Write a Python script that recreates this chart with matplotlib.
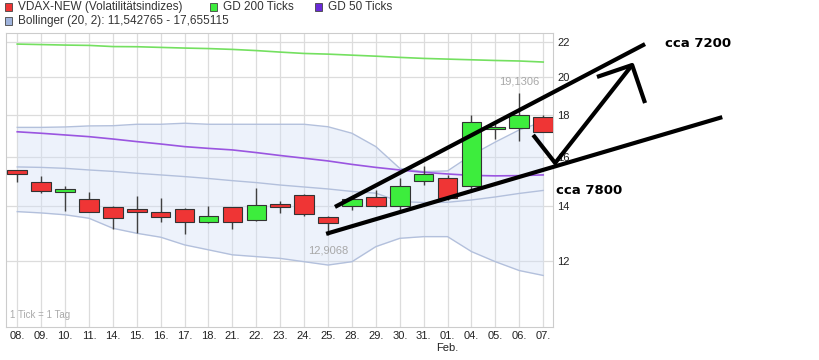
import numpy as np
import matplotlib
matplotlib.use("Agg")
import matplotlib.pyplot as plt
from matplotlib.patches import Rectangle

# VDAX-NEW daily candles
days = ["08.", "09.", "10.", "11.", "14.", "15.", "16.", "17.", "18.", "21.", "22.", "23.",
        "24.", "25.", "28.", "29.", "30.", "31.", "01.\nFeb.", "04.", "05.", "06.", "07."]
opens = [15.45, 14.94, 14.54, 14.25, 13.95, 13.86, 13.75, 13.86, 13.39, 13.94, 13.47, 14.07,
         14.42, 13.55, 13.97, 14.33, 14.00, 14.97, 15.09, 14.77, 17.29, 17.34, 17.90]
highs = [15.47, 15.19, 14.77, 14.54, 13.99, 14.39, 14.31, 13.89, 13.99, 13.95, 14.70, 14.18,
         14.45, 13.59, 14.35, 14.62, 15.12, 15.64, 15.22, 17.99, 17.61, 19.1306, 17.99]
lows = [14.94, 14.51, 13.80, 13.77, 13.13, 12.99, 13.38, 12.94, 13.33, 13.12, 13.42, 13.73,
        13.59, 12.9068, 13.83, 13.94, 13.83, 14.81, 14.22, 14.62, 16.82, 16.75, 17.15]
closes = [15.28, 14.59, 14.66, 13.77, 13.52, 13.76, 13.55, 13.37, 13.61, 13.39, 14.03, 13.94,
          13.68, 13.35, 14.25, 13.97, 14.78, 15.29, 14.29, 17.65, 17.42, 17.99, 17.17]

gd200 = [21.88, 21.85, 21.82, 21.80, 21.73, 21.72, 21.68, 21.64, 21.61, 21.56, 21.49, 21.40,
         21.32, 21.28, 21.22, 21.16, 21.09, 21.03, 20.99, 20.95, 20.91, 20.88, 20.82]
gd50 = [17.17, 17.10, 17.02, 16.94, 16.83, 16.71, 16.60, 16.48, 16.40, 16.33, 16.21, 16.08,
        15.96, 15.84, 15.69, 15.56, 15.45, 15.35, 15.28, 15.22, 15.20, 15.21, 15.24]
boll_up = [17.38, 17.38, 17.40, 17.45, 17.46, 17.53, 17.53, 17.58, 17.53, 17.53, 17.53, 17.53,
           17.53, 17.41, 17.10, 16.48, 15.52, 15.38, 15.41, 16.10, 16.69, 17.26, 17.655115]
boll_mid = [15.58, 15.56, 15.52, 15.45, 15.39, 15.31, 15.24, 15.17, 15.09, 15.00, 14.92, 14.82,
            14.74, 14.66, 14.56, 14.49, 14.16, 14.12, 14.13, 14.22, 14.34, 14.48, 14.60]
boll_lo = [13.77, 13.72, 13.65, 13.52, 13.15, 12.97, 12.83, 12.56, 12.39, 12.22, 12.16, 12.10,
           11.99, 11.88, 11.99, 12.50, 12.79, 12.85, 12.85, 12.33, 11.99, 11.70, 11.542765]

yticks = [12, 14, 16, 18, 20, 22]

# hand drawn marks (x in candle index, y in value)
wedge_top = ([13.29, 26.26], [13.95, 21.88])
wedge_bottom = ([12.92, 29.49], [12.95, 17.88])
arrow_path = ([21.58, 22.50, 25.72], [17.02, 15.75, 20.65])
arrow_head = ([24.25, 25.72, 26.26], [19.98, 20.65, 18.59])
notes = [(27.1, 21.94, "cca 7200"), (22.54, 14.58, "cca 7800")]

RED = "#ef3535"
GREEN = "#3ded3d"
PURPLE = "#9a55e0"
GD200_C = "#74e060"
BAND = "#b3c0dc"

plt.rcParams["font.family"] = ["Liberation Sans", "DejaVu Sans"]

fig = plt.figure(figsize=(8.2, 3.6), dpi=100)
ax = fig.add_axes([6 / 820, 33 / 360, 547 / 820, 294 / 360])

x = np.arange(len(days))
ax.fill_between(x, boll_lo, boll_up, color="#d2e0f7", alpha=0.4, lw=0, zorder=1)
ax.plot(x, boll_up, color=BAND, lw=1, zorder=2)
ax.plot(x, boll_lo, color=BAND, lw=1, zorder=2)
ax.plot(x, boll_mid, color=BAND, lw=1, zorder=2)
ax.plot(x, gd200, color=GD200_C, lw=1.2, zorder=2)
ax.plot(x, gd50, color=PURPLE, lw=1.2, zorder=2)

o = np.array(opens)
c = np.array(closes)
up = c >= o
ax.vlines(x, lows, highs, color="#404040", lw=1, zorder=3)
ax.bar(x, np.abs(c - o), bottom=np.minimum(o, c), width=0.82,
       color=np.where(up, GREEN, RED), edgecolor="#333333", linewidth=0.8, zorder=4)

ax.set_yscale("log")
ax.set_xlim(-0.47, 22.41)
ax.set_ylim(10.01, 22.56)
ax.set_yticks(yticks)
ax.set_yticklabels([str(t) for t in yticks])
ax.yaxis.set_minor_locator(matplotlib.ticker.NullLocator())
ax.yaxis.tick_right()
ax.set_xticks(x)
ax.set_xticklabels(days)
ax.tick_params(axis="both", length=0, labelsize=8, colors="#222222")
ax.tick_params(axis="y", pad=3)
ax.tick_params(axis="x", pad=3)
ax.grid(True, color="#dcdcdc", lw=0.9, zorder=0)
ax.set_axisbelow(True)
for s in ax.spines.values():
    s.set_color("#cccccc")

i_lo = lows.index(min(lows))
i_hi = highs.index(max(highs))
ax.annotate(f"{lows[i_lo]:.4f}".replace(".", ","), (i_lo, lows[i_lo]), xytext=(0, -11),
            textcoords="offset points", ha="center", va="center", fontsize=8, color="#a8a8a8")
ax.annotate(f"{highs[i_hi]:.4f}".replace(".", ","), (i_hi, highs[i_hi]), xytext=(0, 8),
            textcoords="offset points", ha="center", va="center", fontsize=8, color="#a8a8a8")
ax.text(0.008, 0.03, "1 Tick = 1 Tag", transform=ax.transAxes, fontsize=7, color="#aaaaaa")

for xs, ys in [wedge_top, wedge_bottom, arrow_path, arrow_head]:
    ax.plot(xs, ys, color="black", lw=3, solid_capstyle="butt", clip_on=False, zorder=6)
for nx, ny, t in notes:
    ax.text(nx, ny, t, fontsize=9.5, fontweight="bold", family="DejaVu Sans",
            va="center", ha="left", clip_on=False, zorder=6)

# legend row
legend = [(5, 7, RED, "VDAX-NEW (Volatilitätsindizes)"),
          (210, 7, GREEN, "GD 200 Ticks"),
          (315, 7, "#6a2ad8", "GD 50 Ticks"),
          (5, 21, "#9fb3dc", "Bollinger (20, 2): 11,542765 - 17,655115")]
for lx, ly, col, lab in legend:
    fig.patches.append(Rectangle((lx / 820, 1 - (ly + 4) / 360), 7 / 820, 8 / 360,
                                 transform=fig.transFigure, facecolor=col,
                                 edgecolor="#444444", lw=0.6))
    fig.text((lx + 13) / 820, 1 - ly / 360, lab, fontsize=8.5, color="#333333", va="center")

fig.savefig("out.png", dpi=100)
